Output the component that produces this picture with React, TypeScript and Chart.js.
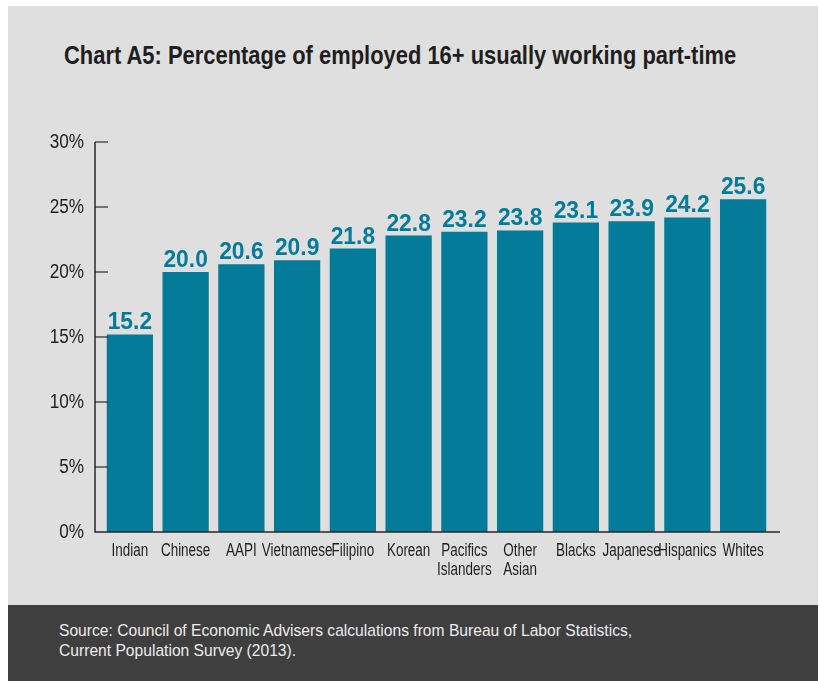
import React, { useEffect, useRef, useState } from "react";
import { Chart, registerables } from "chart.js";

Chart.register(...registerables);

const categories: string[][] = [
  ["Indian"], ["Chinese"], ["AAPI"], ["Vietnamese"], ["Filipino"], ["Korean"],
  ["Pacifics", "Islanders"], ["Other", "Asian"], ["Blacks"], ["Japanese"], ["Hispanics"], ["Whites"],
];
const values: number[] = [15.2, 20.0, 20.6, 20.9, 21.8, 22.8, 23.1, 23.2, 23.8, 23.9, 24.2, 25.6];
const valueLabels: string[] = ["15.2", "20.0", "20.6", "20.9", "21.8", "22.8", "23.2", "23.8", "23.1", "23.9", "24.2", "25.6"];
const yTicks: number[] = [0, 5, 10, 15, 20, 25, 30];
const yTickLabels: string[] = ["0%", "5%", "10%", "15%", "20%", "25%", "30%"];

const TITLE = "Chart A5: Percentage of employed 16+ usually working part-time";
const SOURCE1 = "Source: Council of Economic Advisers calculations from Bureau of Labor Statistics,";
const SOURCE2 = "Current Population Survey (2013).";

const FONT = '"Liberation Sans", Arial, sans-serif';
const BAR = "#047b98";
const AXIS = "#2a2a2a";
const TEXT = "#1e1e1e";

function measure(text: string, font: string): number {
  const c = document.createElement("canvas").getContext("2d")!;
  c.font = font;
  return c.measureText(text).width;
}

function drawSqueezed(ctx: any, text: string, x: number, y: number, sx: number) {
  ctx.save();
  ctx.translate(x, y);
  ctx.scale(sx, 1);
  ctx.fillText(text, 0, 0);
  ctx.restore();
}

const decorPlugin = {
  id: "decor",
  afterDatasetsDraw(chart: any) {
    const { ctx, chartArea } = chart;
    const y = chart.scales.y;
    const x = chart.scales.x;
    const axisX = chartArea.left - 7;
    ctx.save();
    ctx.strokeStyle = AXIS;
    ctx.lineWidth = 1.5;
    ctx.beginPath();
    ctx.moveTo(axisX, y.getPixelForValue(30));
    ctx.lineTo(axisX, y.getPixelForValue(0));
    ctx.lineTo(chartArea.right + 9, y.getPixelForValue(0));
    ctx.stroke();
    ctx.lineWidth = 1.2;
    yTicks.forEach((v) => {
      if (v === 0) return;
      const py = y.getPixelForValue(v);
      ctx.beginPath();
      ctx.moveTo(axisX, py);
      ctx.lineTo(axisX + 13, py);
      ctx.stroke();
    });

    // y tick labels
    ctx.fillStyle = TEXT;
    ctx.font = "19.5px " + FONT;
    ctx.textAlign = "right";
    ctx.textBaseline = "middle";
    yTicks.forEach((v, i) => {
      drawSqueezed(ctx, yTickLabels[i], chartArea.left - 18, y.getPixelForValue(v) + 1, 0.88);
    });

    // x tick labels
    ctx.font = "17.5px " + FONT;
    ctx.textAlign = "center";
    ctx.textBaseline = "alphabetic";
    categories.forEach((lines, i) => {
      const px = x.getPixelForTick(i);
      lines.forEach((ln, j) => {
        drawSqueezed(ctx, ln, px, chartArea.bottom + 24 + j * 19, 0.77);
      });
    });

    // value labels
    const meta = chart.getDatasetMeta(0);
    ctx.fillStyle = BAR;
    ctx.font = "bold 24px " + FONT;
    ctx.textAlign = "center";
    ctx.textBaseline = "alphabetic";
    meta.data.forEach((bar: any, i: number) => {
      drawSqueezed(ctx, valueLabels[i], bar.x, bar.y - 5, 0.95);
    });
    ctx.restore();
  },
};

export default function App() {
  const ref = useRef<HTMLCanvasElement | null>(null);
  const [scales, setScales] = useState({ title: 0.8, source: 0.85 });

  useEffect(() => {
    const tw = measure(TITLE, "bold 26px " + FONT);
    const sw = measure(SOURCE1, "17px " + FONT);
    setScales({ title: 673 / tw, source: 574 / sw });
  }, []);

  useEffect(() => {
    if (!ref.current) return;
    const chart = new Chart(ref.current, {
      type: "bar",
      data: {
        labels: categories,
        datasets: [
          {
            data: values,
            backgroundColor: BAR,
            borderWidth: 0,
            barPercentage: 0.83,
            categoryPercentage: 1,
          },
        ],
      },
      options: {
        animation: false,
        responsive: false,
        maintainAspectRatio: false,
        layout: { padding: { top: 32, right: 47, bottom: 0, left: 0 } },
        plugins: { legend: { display: false }, tooltip: { enabled: false }, title: { display: false } },
        scales: {
          x: {
            grid: { display: false, drawTicks: false },
            border: { display: false },
            afterFit: (s: any) => { s.height = 68; },
            ticks: { display: false, autoSkip: false },
          },
          y: {
            min: 0,
            max: 30,
            grid: { display: false, drawTicks: false },
            border: { display: false },
            afterFit: (s: any) => { s.width = 94; },
            afterBuildTicks: (s: any) => { s.ticks = yTicks.map((v) => ({ value: v })); },
            ticks: { display: false },
          },
        },
      },
      plugins: [decorPlugin],
    });
    return () => chart.destroy();
  }, []);

  return (
    <div style={{ position: "fixed", left: 8, top: 6, width: 810, height: 675, background: "#dfdfdf", overflow: "hidden" }}>
      <div
        style={{
          position: "absolute",
          left: 56,
          top: 34,
          fontFamily: FONT,
          fontWeight: "bold",
          fontSize: 26,
          lineHeight: "30px",
          color: TEXT,
          whiteSpace: "nowrap",
          transform: `scaleX(${scales.title})`,
          transformOrigin: "0 0",
        }}
      >
        {TITLE}
      </div>
      <div style={{ position: "absolute", left: 0, top: 104, width: 810, height: 490 }}>
        <canvas ref={ref} width={810} height={490} style={{ display: "block" }} />
      </div>
      <div
        style={{
          position: "absolute",
          left: 0,
          top: 599,
          width: 810,
          height: 76,
          background: "#3f3f3f",
        }}
      >
        <div
          style={{
            position: "absolute",
            left: 51,
            top: 16,
            color: "#ececec",
            fontFamily: FONT,
            fontSize: 17,
            lineHeight: "20px",
            whiteSpace: "nowrap",
            transform: `scaleX(${scales.source})`,
            transformOrigin: "0 0",
          }}
        >
          {SOURCE1}
          <br />
          {SOURCE2}
        </div>
      </div>
    </div>
  );
}
